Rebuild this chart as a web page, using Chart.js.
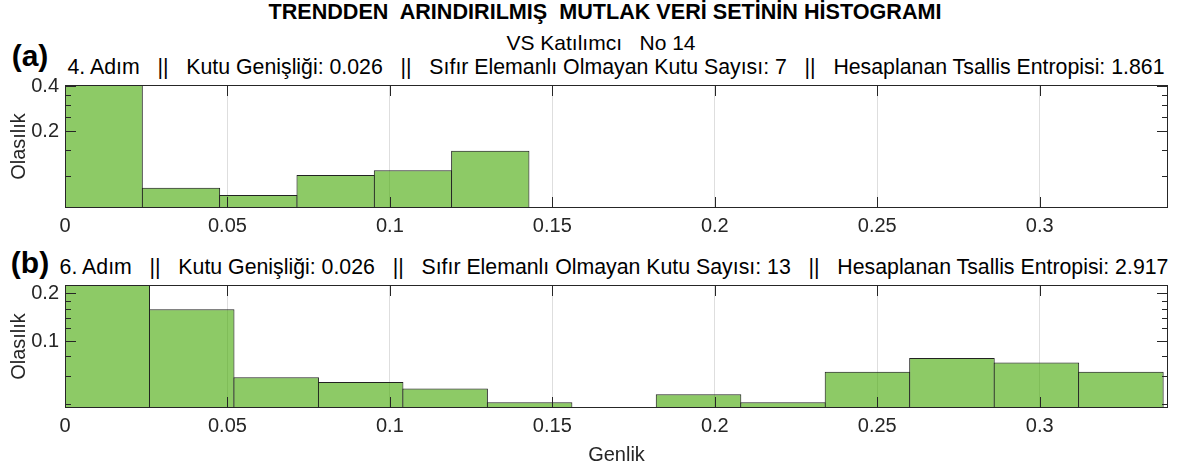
<!DOCTYPE html>
<html lang="tr">
<head>
<meta charset="utf-8">
<script src="https://cdn.jsdelivr.net/npm/chart.js@4/dist/chart.umd.min.js"></script>
<style>
  body { margin: 0; background: #fff; }
  #root { position: relative; width: 1189px; height: 475px; overflow: hidden;
          font-family: "Liberation Sans", Arial, sans-serif; color: #000; }
  .txt { position: absolute; white-space: pre; line-height: 1; transform: translate(-50%, -50%); }
  .painel { position: absolute; left: 0; }
</style>
</head>
<body>
<div id="root">
  <div class="txt" style="left:605px;top:12px;font-weight:bold;font-size:21.6px">TRENDDEN  ARINDIRILMIŞ  MUTLAK VERİ SETİNİN HİSTOGRAMI</div>
  <div class="txt" style="left:601px;top:42px;font-size:21px">VS Katılımcı   No 14</div>

  <div class="txt" style="left:30px;top:56px;font-weight:bold;font-size:30px">(a)</div>
  <div class="txt" style="left:616px;top:68px;font-size:21.3px">4. Adım   ||   Kutu Genişliği: 0.026   ||   Sıfır Elemanlı Olmayan Kutu Sayısı: 7   ||   Hesaplanan Tsallis Entropisi: 1.861</div>

  <div class="txt" style="left:30px;top:263px;font-weight:bold;font-size:30px">(b)</div>
  <div class="txt" style="left:614px;top:268px;font-size:21.3px">6. Adım   ||   Kutu Genişliği: 0.026   ||   Sıfır Elemanlı Olmayan Kutu Sayısı: 13   ||   Hesaplanan Tsallis Entropisi: 2.917</div>

  <canvas id="histA" class="painel" style="top:67px" width="1189" height="178"></canvas>
  <canvas id="histB" class="painel" style="top:267px" width="1189" height="208"></canvas>
</div>

<script>
// Eixo x comum (Genlik)
const xTicks = [0, 0.05, 0.1, 0.15, 0.2, 0.25, 0.3];

// (a) 4. Adım — centros das caixas e probabilidades
const binCentersA = [0.0119, 0.0357, 0.0595, 0.0833, 0.1071, 0.1309];
const probA = [0.48, 0.084, 0.075, 0.102, 0.11, 0.148];
const yTicksA = [0.1, 0.15, 0.2, 0.25, 0.3, 0.35, 0.4];
const yLabelsA = [0.2, 0.4];

// (b) 6. Adım
const binCentersB = [0.013, 0.039, 0.065, 0.091, 0.117, 0.143, 0.169,
                     0.195, 0.221, 0.247, 0.273, 0.299, 0.325];
const probB = [0.27, 0.159, 0.059, 0.055, 0.05, 0.041, null,
               0.046, 0.041, 0.064, 0.078, 0.073, 0.064];
const yTicksB = [0.04, 0.06, 0.08, 0.1, 0.12, 0.14, 0.16, 0.18, 0.2];
const yLabelsB = [0.1, 0.2];

Chart.defaults.font.family = '"Liberation Sans", Arial, sans-serif';
Chart.defaults.font.size = 20;
Chart.defaults.color = "#262626";

const COR_EIXO = "#262626";

// Caixa do eixo + marcas de tick para dentro (estilo MATLAB)
const moldura = {
  id: "moldura",
  afterDatasetsDraw(chart, args, opts) {
    const { ctx, chartArea: a, scales: { x, y } } = chart;
    ctx.save();
    ctx.strokeStyle = COR_EIXO;
    ctx.lineWidth = 1;
    ctx.beginPath();
    x.ticks.forEach((t) => {
      const px = Math.round(x.getPixelForValue(t.value)) + 0.5;
      ctx.moveTo(px, a.bottom); ctx.lineTo(px, a.bottom - 11);
      ctx.moveTo(px, a.top); ctx.lineTo(px, a.top + 11);
    });
    y.ticks.forEach((t) => {
      const py = Math.round(y.getPixelForValue(t.value)) + 0.5;
      const len = opts.rotulos.includes(t.value) ? 11 : 6;
      ctx.moveTo(a.left, py); ctx.lineTo(a.left + len, py);
      ctx.moveTo(a.right, py); ctx.lineTo(a.right - len, py);
    });
    ctx.stroke();
    ctx.strokeRect(Math.round(a.left) + 0.5, Math.round(a.top) + 0.5,
                   Math.round(a.right - a.left) - 1, Math.round(a.bottom - a.top) - 1);
    ctx.restore();
  },
};

function criarHistograma(canvasId, centros, valores, yMin, yMax, yTicks, yRotulos, alturaEixoX, tituloX) {
  const canvas = document.getElementById(canvasId);
  return new Chart(canvas, {
    type: "bar",
    data: {
      datasets: [{
        data: centros.map((c, i) => ({ x: c, y: valores[i] })),
        backgroundColor: "rgba(65, 167, 0, 0.6)",
        borderColor: "#222222",
        borderWidth: 1,
        borderSkipped: "start",
        barPercentage: 1.013,
        categoryPercentage: 1,
        clip: 0,
      }],
    },
    plugins: [moldura],
    options: {
      responsive: false,
      animation: false,
      devicePixelRatio: 1,
      layout: { padding: { top: 5, right: 21, left: 0, bottom: 0 } },
      plugins: {
        legend: { display: false },
        tooltip: { enabled: false },
        moldura: { rotulos: yRotulos },
      },
      scales: {
        x: {
          type: "linear",
          min: 0,
          max: 0.3395,
          offset: false,
          grid: { display: true, drawTicks: false, color: "#dedede", offset: false },
          border: { display: false },
          ticks: { padding: 6, autoSkip: false, maxRotation: 0, callback: (v) => String(v) },
          afterBuildTicks: (s) => { s.ticks = xTicks.map((v) => ({ value: v })); },
          afterFit: (s) => { s.height = alturaEixoX; },
          title: tituloX
            ? { display: true, text: tituloX, padding: { top: 0, bottom: 8 } }
            : { display: false },
        },
        y: {
          type: "logarithmic",
          min: yMin,
          max: yMax,
          grid: { display: false, drawTicks: false },
          border: { display: false },
          ticks: {
            padding: 6,
            autoSkip: false,
            callback: (v) => (yRotulos.includes(v) ? String(v) : ""),
          },
          afterBuildTicks: (s) => { s.ticks = yTicks.map((v) => ({ value: v })); },
          afterFit: (s) => { s.width = 65; },
          title: { display: true, text: "Olasılık", padding: { top: 7, bottom: 0 } },
        },
      },
    },
  });
}

criarHistograma("histA", binCentersA, probA, 0.0614, 0.408, yTicksA, yLabelsA, 37, null);
criarHistograma("histB", binCentersB, probB, 0.0377, 0.226, yTicksB, yLabelsB, 67, "Genlik");
</script>
</body>
</html>
